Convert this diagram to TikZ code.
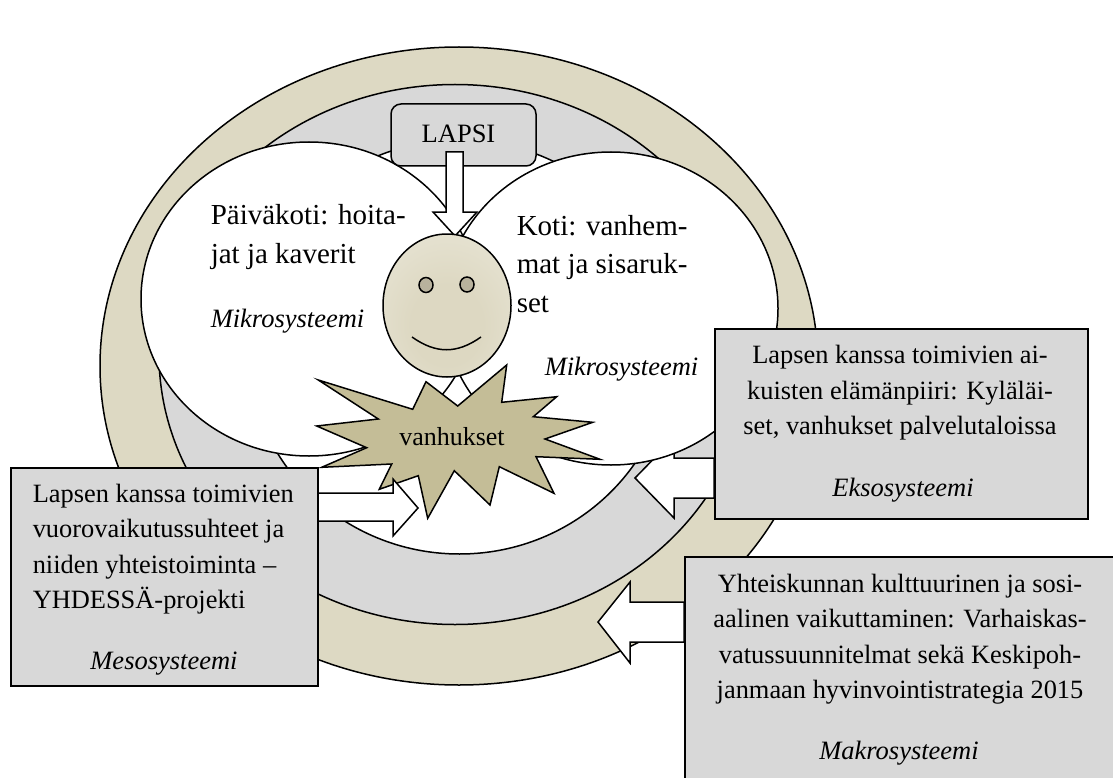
\documentclass[tikz,border=0pt]{standalone}
\usepackage{fontspec}
\setmainfont{Liberation Serif}
\definecolor{ringbeige}{HTML}{DDD9C3}
\definecolor{ringgray}{HTML}{D8D8D8}
\definecolor{starfill}{HTML}{C4BD97}
\definecolor{eyefill}{HTML}{B8B29D}
\definecolor{facemid}{HTML}{DDD8C2}
\definecolor{faceedge}{HTML}{EEECE0}
\pgfdeclareradialshading{facesh}{\pgfpoint{0bp}{-8bp}}{color(0bp)=(facemid); color(14bp)=(facemid); color(50bp)=(faceedge); color(100bp)=(faceedge)}
\tikzset{
  boxnode/.style={draw=black,fill=ringgray,anchor=north west,inner sep=0pt},
  bubbletext/.style={anchor=base west,inner sep=0pt,font=\fontsize{29}{38}\selectfont},
  boxtext/.style={anchor=base,inner sep=0pt,font=\fontsize{26.4}{35}\selectfont},
  boxleft/.style={anchor=base west,inner sep=0pt,font=\fontsize{26.4}{35}\selectfont},
  ital/.style={anchor=base,inner sep=0pt,font=\fontsize{26.5}{35}\selectfont\itshape},
  blockarrow/.style={draw=black,fill=white}
}
\begin{document}
\begin{tikzpicture}[x=1pt,y=-1pt,line width=1.5pt]
\useasboundingbox (0,0) rectangle (1113,778);
% rings
\draw[fill=ringbeige] (459,366) ellipse [x radius=359,y radius=319];
\draw[fill=ringgray] (455,354.5) ellipse [x radius=296,y radius=270];
\draw[fill=white] (459.5,347) ellipse [x radius=212,y radius=207];
% arrows behind the bubbles
\draw[blockarrow] (714,458) -- (674,458) -- (674,438) -- (635,478) -- (674,518) -- (674,498) -- (714,498) -- cycle;
\draw[blockarrow] (684,602) -- (630,602) -- (630,582) -- (598,622) -- (630,663) -- (630,642) -- (684,642) -- cycle;
% bubbles
\draw[fill=white] (309,299) ellipse [x radius=168,y radius=157];
\draw[fill=white] (611,308.5) ellipse [x radius=167,y radius=156.5];
% LAPSI
\node[draw=black,fill=ringgray,rounded corners=10pt,minimum width=145pt,minimum height=62pt,inner sep=0pt] (lapsi) at (463.5,135) {};
\node[anchor=base,inner sep=0pt,font=\fontsize{26.5}{30}\selectfont] (lapsitext) at (458.5,143) {LAPSI};
\draw[blockarrow] (446,152) -- (463,152) -- (463,212) -- (477,212) -- (455,236) -- (433,212) -- (446,212) -- cycle;
% face
\path[shading=facesh,draw=black,line width=1.5pt] (447,305.5) ellipse [x radius=64,y radius=71.5];
\draw[fill=eyefill] (426,285) ellipse [x radius=7,y radius=7.5];
\draw[fill=eyefill] (467,284.5) ellipse [x radius=7,y radius=7.5];
\draw (412,337) .. controls (436,354) and (457,354) .. (481,337);
% star
\draw[fill=starfill] (457.7,406) -- (506.7,365) -- (501.7,402.3) -- (556.7,396.7) -- (533.3,416.7) -- (592.7,422.3) -- (545,439) -- (600,459.3) -- (536,456.7) -- (554,493.3) -- (499.3,466.7) -- (490,505) -- (454.3,470.7) -- (427.7,518.3) -- (418.3,475.7) -- (379.3,489.3) -- (391.7,464) -- (321.7,467.3) -- (366.7,447.7) -- (316.7,426) -- (378.3,419) -- (318.3,380) -- (412.7,409.3) -- (426,381.7) -- cycle;
\node[anchor=base,inner sep=0pt,font=\fontsize{26}{30}\selectfont] (vanhukset) at (452,445) {vanhukset};
% meso arrow
\draw[blockarrow] (317,493) -- (393,493) -- (393,479) -- (418,508) -- (393,536) -- (393,521) -- (317,521) -- cycle;
% bubble text
\node[bubbletext] (paiva1) at (210,225) {Päiväkoti: hoita-};
\node[bubbletext] (paiva2) at (210,263) {jat ja kaverit};
\node[ital,anchor=base west] (m1) at (210,327) {Mikrosysteemi};
\node[bubbletext] (koti1) at (516,235) {Koti: vanhem-};
\node[bubbletext] (koti2) at (516,273) {mat ja sisaruk-};
\node[bubbletext] (koti3) at (516,312) {set};
\node[ital,anchor=base west] (m2) at (544,375) {Mikrosysteemi};
% boxes
\node[boxnode,minimum width=307pt,minimum height=218pt] (meso) at (10,467) {};
\node[boxleft] (mesoa) at (32,502) {Lapsen kanssa toimivien};
\node[boxleft] (mesob) at (32,537) {vuorovaikutussuhteet ja};
\node[boxleft] (mesoc) at (32,573) {niiden yhteistoiminta –};
\node[boxleft] (mesod) at (32,608) {YHDESSÄ-projekti};
\node[ital] (mesoital) at (164,669) {Mesosysteemi};
\node[boxnode,minimum width=373pt,minimum height=190pt] (ekso) at (714,328) {};
\node[boxtext] (eksoa) at (900,363) {Lapsen kanssa toimivien ai-};
\node[boxtext] (eksob) at (900,399) {kuisten elämänpiiri: Kyläläi-};
\node[boxtext] (eksoc) at (900,434) {set, vanhukset palvelutaloissa};
\node[ital] (eksoital) at (903,496) {Eksosysteemi};
\node[boxnode,minimum width=432pt,minimum height=225pt] (makro) at (684,556) {};
\node[boxtext] (makroa) at (900,592) {Yhteiskunnan kulttuurinen ja sosi-};
\node[boxtext] (makrob) at (900,627) {aalinen vaikuttaminen: Varhaiskas-};
\node[boxtext] (makroc) at (900,663) {vatussuunnitelmat sekä Keskipoh-};
\node[boxtext] (makrod) at (900,698) {janmaan hyvinvointistrategia 2015};
\node[ital] (makroital) at (899,759) {Makrosysteemi};
\end{tikzpicture}
\end{document}
